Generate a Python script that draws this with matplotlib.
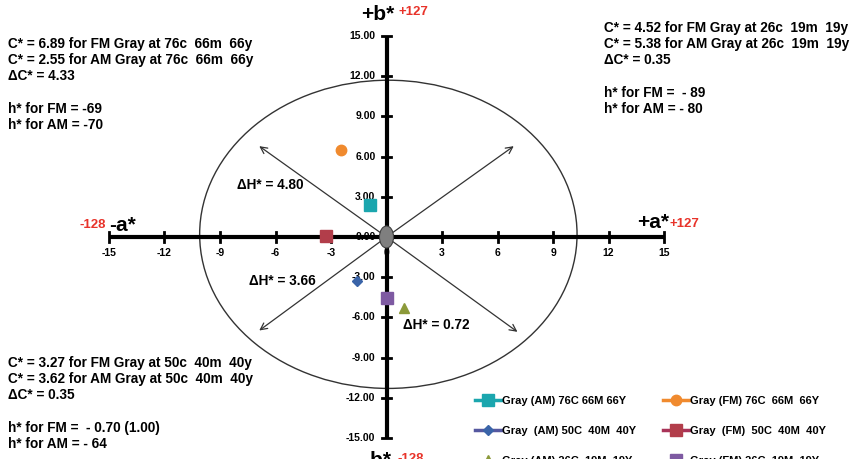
import matplotlib
matplotlib.use("Agg")
import matplotlib.pyplot as plt
from matplotlib.patches import Ellipse

plt.rcParams['font.family'] = ['Liberation Sans', 'DejaVu Sans']
NARROW = ['Liberation Sans Narrow', 'Liberation Sans']

# a*, b* readings for each gray patch
labels = ["Gray (AM) 76C 66M 66Y", "Gray  (AM) 50C  40M  40Y", "Gray (AM) 26C  19M  19Y",
          "Gray (FM) 76C  66M  66Y", "Gray  (FM)  50C  40M  40Y", "Gray (FM) 26C  19M  19Y"]
a_vals = [-0.87, -1.58, 0.95, -2.45, -3.27, 0.05]
b_vals = [2.40, -3.26, -5.30, 6.50, 0.04, -4.52]

markers = ['s', 'D', '^', 'o', 's', 's']
face_cols = ['#1BA6AE', '#3A64A8', '#8C9A3A', '#F08A2E', '#B23D4A', '#7E5AA2']
line_cols = ['#1BA6AE', '#5558A0', '#D9A050', '#F08A2E', '#A93358', '#7E5AA2']
msizes = [8, 5, 7.5, 7.5, 8, 8]

xticks = [-15, -12, -9, -6, -3, 0, 3, 6, 9, 12, 15]
yticks = [-15, -12, -9, -6, -3, 0, 3, 6, 9, 12, 15]

W, H = 855, 459
fig = plt.figure(figsize=(W / 100, H / 100), dpi=100)
ax = fig.add_axes([0, 0, 1, 1])
ax.set_xlim(-386.5 / 18.5, (W - 386.5) / 18.5)
ax.set_ylim((237 - H) / 13.4, 237 / 13.4)
ax.axis('off')


def fx(x, y):
    # pixel position -> figure fraction
    return x / W, 1 - y / H


# ellipse and the four arrows
ax.add_patch(Ellipse((0.1, 0.2), 20.4, 23.0, fill=False, edgecolor='#333333', lw=1.0))
for dx, dy in [(-7, 6.9), (7, 6.9), (-7, -7.1), (7.2, -7.2)]:
    ax.annotate('', xy=(dx, dy), xytext=(0, 0),
                arrowprops=dict(arrowstyle='->', color='#333333', lw=0.9, mutation_scale=12))

# axes cross with tick marks
ax.plot([-15, 15], [0, 0], color='black', lw=3, solid_capstyle='butt', zorder=3)
ax.plot([0, 0], [-15, 15], color='black', lw=3, solid_capstyle='butt', zorder=3)
tick_font = dict(fontsize=7.5, fontweight='bold', family=NARROW)
for t in xticks:
    ax.plot([t, t], [-0.38, 0.38], color='black', lw=2, zorder=3)
    ax.text(t, -1.2, str(t), ha='center', va='center', **tick_font)
for t in yticks:
    ax.plot([-0.27, 0.27], [t, t], color='black', lw=2, zorder=3)
    ax.text(-0.6, t, f"{t:.2f}", ha='right', va='center', **tick_font)

ax.add_patch(Ellipse((0, 0), 0.76, 1.64, facecolor='#7F7F7F', edgecolor='#404040', lw=0.8, zorder=4))

# data points
for i in range(len(labels)):
    ax.plot([a_vals[i]], [b_vals[i]], linestyle='-', lw=2.5, marker=markers[i], color=line_cols[i],
            markerfacecolor=face_cols[i], markeredgecolor=face_cols[i], markersize=msizes[i],
            zorder=5, label=labels[i])

leg = ax.legend(loc='upper left', bbox_to_anchor=fx(475, 396), ncol=2, frameon=False,
                handlelength=2.3, handletextpad=0.15, labelspacing=1.8,
                columnspacing=2.4, borderaxespad=0, borderpad=0,
                prop=dict(family=NARROW, weight='bold', size=8))

# axis end labels
big = dict(fontsize=15, fontweight='bold')
red = dict(fontsize=9.5, fontweight='bold', color='#E8332A', family=NARROW)
fig.text(*fx(361, 15), '+b*', ha='left', va='center', **big)
fig.text(*fx(398, 12), '+127', ha='left', va='center', **red)
fig.text(*fx(109, 226), '-a*', ha='left', va='center', **big)
fig.text(*fx(80, 225), '-128', ha='left', va='center', **red)
fig.text(*fx(637, 222), '+a*', ha='left', va='center', **big)
fig.text(*fx(670, 224), '+127', ha='left', va='center', **red)
fig.text(*fx(363, 461), '-b*', ha='left', va='center', **big)
fig.text(*fx(397, 459), '-128', ha='left', va='center', **red)

# chroma / hue notes
note = dict(fontsize=9.85, fontweight='bold', ha='left', va='center')
block_tl = ["C* = 6.89 for FM Gray at 76c  66m  66y",
            "C* = 2.55 for AM Gray at 76c  66m  66y",
            "\u0394C* = 4.33", "",
            "h* for FM = -69",
            "h* for AM = -70"]
block_tr = ["C* = 4.52 for FM Gray at 26c  19m  19y",
            "C* = 5.38 for AM Gray at 26c  19m  19y",
            "\u0394C* = 0.35", "",
            "h* for FM =  - 89",
            "h* for AM = - 80"]
block_bl = ["C* = 3.27 for FM Gray at 50c  40m  40y",
            "C* = 3.62 for AM Gray at 50c  40m  40y",
            "\u0394C* = 0.35", "",
            "h* for FM =  - 0.70 (1.00)",
            "h* for AM = - 64"]
for x0, y0, block in [(8, 44, block_tl), (604, 28, block_tr), (8, 363, block_bl)]:
    for k, line in enumerate(block):
        if line:
            fig.text(*fx(x0, y0 + k * 16.2), line, **note)

fig.text(*fx(237, 185), "\u0394H* = 4.80", **note)
fig.text(*fx(249, 281), "\u0394H* = 3.66", **note)
fig.text(*fx(403, 325), "\u0394H* = 0.72", **note)

fig.savefig("out.png", dpi=100)
